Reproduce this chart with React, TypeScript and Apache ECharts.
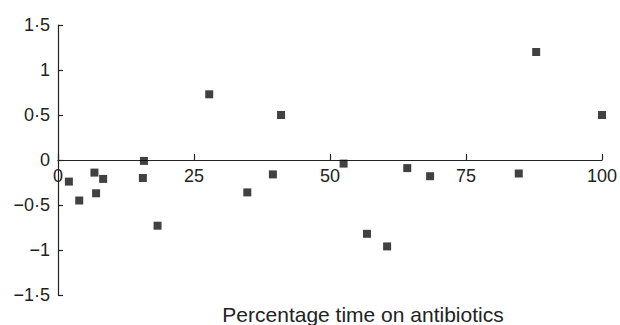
import React, { useEffect, useRef } from "react";
import * as echarts from "echarts";

const xValues = [2.0, 3.9, 6.7, 7.0, 8.3, 15.8, 15.6, 18.3, 27.8, 34.8, 39.5, 41.0, 52.5, 56.8, 60.5, 64.2, 68.4, 84.7, 87.9, 100];
const yValues = [-0.24, -0.45, -0.14, -0.37, -0.21, -0.01, -0.2, -0.73, 0.73, -0.36, -0.16, 0.5, -0.04, -0.82, -0.96, -0.09, -0.18, -0.15, 1.2, 0.5];
const xTicks = ["0", "25", "50", "75", "100"];
const yTickLabels: Record<string, string> = {
  "1.5": "1·5",
  "1": "1",
  "0.5": "0·5",
  "0": "0",
  "-0.5": "−0·5",
  "-1": "−1",
  "-1.5": "−1·5",
};
const xTitle = "Percentage time on antibiotics";

const FONT = "'Liberation Sans', Arial, sans-serif";
const INK = "#222";

export default function App() {
  const ref = useRef<HTMLDivElement>(null);
  useEffect(() => {
    if (!ref.current) return;
    const chart = echarts.init(ref.current, undefined, { renderer: "svg" });
    const data = xValues.map((x, i) => [x, yValues[i]]);
    chart.setOption({
      animation: false,
      backgroundColor: "#fff",
      grid: [
        { left: 58, right: 18, top: 25, bottom: 30, containLabel: false },
        // upper half grid: its bottom edge is the zero line, carrying the x axis
        { left: 58, right: 18, top: 25, bottom: 165, containLabel: false },
      ],
      xAxis: [
        {
          gridIndex: 0,
          type: "value",
          min: 0,
          max: 100,
          interval: 25,
          show: false,
          splitLine: { show: false },
        },
        {
          gridIndex: 1,
          type: "value",
          min: 0,
          max: 100,
          interval: 25,
          splitLine: { show: false },
          axisLine: { show: true, onZero: false, lineStyle: { color: INK, width: 1.2 } },
          axisTick: { show: true, inside: true, length: 6, lineStyle: { color: INK, width: 1.2 } },
          axisLabel: {
            show: true,
            margin: 7,
            color: INK,
            fontSize: 18,
            fontFamily: FONT,
            showMinLabel: true,
            showMaxLabel: true,
            formatter: (v: number) => xTicks[Math.round(v / 25)] ?? "",
          },
        },
      ],
      yAxis: [
        {
          gridIndex: 0,
          type: "value",
          min: -1.5,
          max: 1.5,
          interval: 0.5,
          splitLine: { show: false },
          axisLine: { show: true, onZero: false, lineStyle: { color: INK, width: 1.2 } },
          axisTick: { show: true, inside: true, length: 5, lineStyle: { color: INK, width: 1.2 } },
          axisLabel: {
            show: true,
            margin: 8,
            color: INK,
            fontSize: 18,
            fontFamily: FONT,
            formatter: (v: number) => yTickLabels[String(Math.round(v * 10) / 10)] ?? String(v),
          },
        },
        {
          gridIndex: 1,
          type: "value",
          min: 0,
          max: 1.5,
          show: false,
          splitLine: { show: false },
        },
      ],
      series: [
        {
          type: "scatter",
          xAxisIndex: 0,
          yAxisIndex: 0,
          symbol: "rect",
          symbolSize: 8,
          itemStyle: { color: "#111" },
          data,
        },
      ],
      graphic: [
        {
          type: "text",
          x: 363,
          y: 314,
          style: {
            text: xTitle,
            fill: INK,
            fontSize: 21,
            fontFamily: FONT,
            textAlign: "center",
            textVerticalAlign: "middle",
          },
        },
      ],
    });
    return () => chart.dispose();
  }, []);
  return <div ref={ref} style={{ width: 620, height: 325, position: "fixed", left: 0, top: 0 }} />;
}
